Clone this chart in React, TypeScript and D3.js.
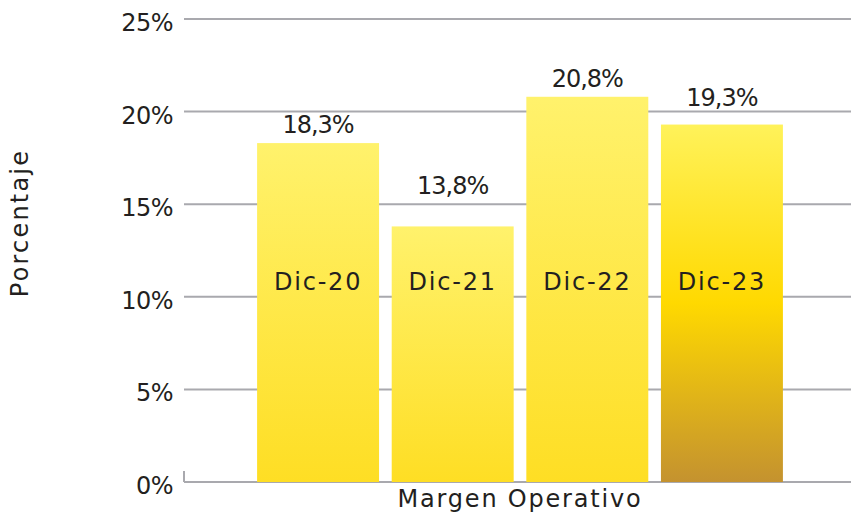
import * as React from "react";
import * as d3 from "d3";

const groups = ["Margen Operativo"];
const periods = ["Dic-20", "Dic-21", "Dic-22", "Dic-23"];
const values = [18.3, 13.8, 20.8, 19.3];
const yTicks = [0, 5, 10, 15, 20, 25];

const width = 851;
const height = 514;
const font = "'DejaVu Sans', sans-serif";
const ink = "#231f20";
const grid = "#a9a9ae";

export default function App() {
  const margin = { top: 19, right: 0, bottom: 32, left: 184 };

  const y = d3
    .scaleLinear()
    .domain([0, 25])
    .range([height - margin.bottom, margin.top]);

  const x0 = d3
    .scaleBand()
    .domain(groups)
    .range([margin.left, 856])
    .paddingOuter(0.139)
    .paddingInner(0);

  const x1 = d3
    .scaleBand()
    .domain(periods)
    .range([0, x0.bandwidth()])
    .paddingInner(0.094)
    .paddingOuter(0);

  const fmt = (v: number) => d3.format(".1f")(v).replace(".", ",") + "%";
  const labelY = y(10.8);
  // value labels were nudged in the original to dodge gridlines
  const lift = [10, 32, 10, 19];

  return (
    <svg
      width={width}
      height={height}
      style={{ position: "absolute", left: 0, top: 0 }}
      fontFamily={font}
    >
      <defs>
        <linearGradient id="gLight" x1="0" y1="0" x2="0" y2="1">
          <stop offset="0%" stopColor="#fff26c" />
          <stop offset="100%" stopColor="#fede24" />
        </linearGradient>
        <linearGradient id="gGold" x1="0" y1="0" x2="0" y2="1">
          <stop offset="0%" stopColor="#fff25a" />
          <stop offset="50%" stopColor="#ffd900" />
          <stop offset="100%" stopColor="#c4922f" />
        </linearGradient>
      </defs>

      {/* gridlines */}
      {yTicks.map((t) => (
        <g key={t}>
          <line
            x1={margin.left}
            x2={width}
            y1={y(t)}
            y2={y(t)}
            stroke={grid}
            strokeWidth={2}
          />
          <text
            x={173}
            y={y(t) + 12}
            textAnchor="end"
            fontSize={24}
            letterSpacing={-0.5}
            fill={ink}
          >
            {t}%
          </text>
        </g>
      ))}
      <line
        x1={margin.left}
        x2={margin.left}
        y1={y(0) - 11}
        y2={y(0)}
        stroke={grid}
        strokeWidth={2}
      />

      {/* bars */}
      {groups.map((g) => (
        <g key={g} transform={`translate(${x0(g)},0)`}>
          {periods.map((p, i) => {
            const bx = x1(p) as number;
            const bw = x1.bandwidth();
            return (
              <g key={p}>
                <rect
                  x={bx}
                  y={y(values[i])}
                  width={bw}
                  height={y(0) - y(values[i])}
                  fill={i === 3 ? "url(#gGold)" : "url(#gLight)"}
                />
                <text
                  x={bx + bw / 2}
                  y={y(values[i]) - lift[i]}
                  textAnchor="middle"
                  fontSize={24}
                  letterSpacing={-1}
                  fill={ink}
                >
                  {fmt(values[i])}
                </text>
                <text
                  x={bx + bw / 2}
                  y={labelY}
                  dy="0.35em"
                  textAnchor="middle"
                  fontSize={24}
                  letterSpacing={1.8}
                  fill={ink}
                >
                  {p}
                </text>
              </g>
            );
          })}
          <text
            x={x0.bandwidth() / 2}
            y={507}
            textAnchor="middle"
            fontSize={24}
            letterSpacing={1.8}
            fill={ink}
          >
            {g}
          </text>
        </g>
      ))}

      <text
        transform={`translate(28,${223}) rotate(-90)`}
        textAnchor="middle"
        fontSize={24}
        letterSpacing={2.2}
        fill={ink}
      >
        Porcentaje
      </text>
    </svg>
  );
}
